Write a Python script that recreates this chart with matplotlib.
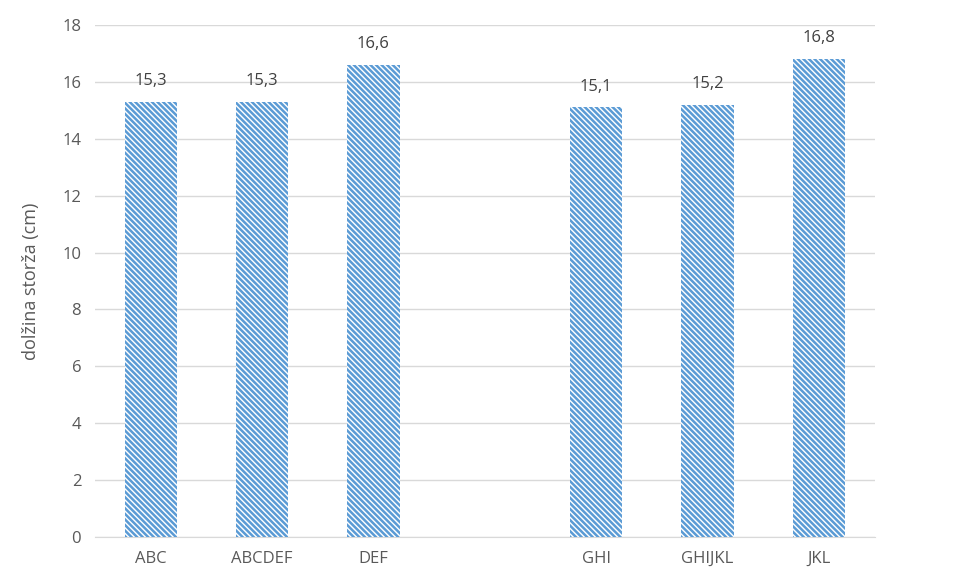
import numpy as np
import matplotlib.pyplot as plt

plt.rcParams['font.family'] = ['Open Sans', 'DejaVu Sans']
plt.rcParams['hatch.linewidth'] = 1.8

# prazen stolpec ločuje obe skupini
kategorije = ['ABC', 'ABCDEF', 'DEF', '', 'GHI', 'GHIJKL', 'JKL']
dolzine = [15.3, 15.3, 16.6, np.nan, 15.1, 15.2, 16.8]

modra = '#5B9BD5'

fig = plt.figure(figsize=(9.6, 5.77), dpi=100)
ax = fig.add_axes([0.099, 0.0693, 0.812, 0.8874])

x = np.arange(len(kategorije))
vrednosti = np.nan_to_num(dolzine)
bars = ax.bar(x, vrednosti, width=0.47, color='white', edgecolor=modra,
              hatch='\\' * 6, linewidth=0, zorder=3)

for xi, v in zip(x, dolzine):
    if np.isnan(v):
        continue
    ax.text(xi, v + 0.45, f'{v:.1f}'.replace('.', ','), ha='center', va='bottom',
            fontsize=12, color='#404040')

ax.set_xlim(-0.5, len(kategorije) - 0.5)
ax.set_ylim(0, 18)
ax.set_yticks(np.arange(0, 19, 2))
ax.set_xticks(x)
ax.set_xticklabels(kategorije)
ax.set_ylabel('dolžina storža (cm)', fontsize=13, color='#595959', labelpad=16)

ax.grid(axis='y', color='#D9D9D9', linewidth=1, zorder=0)
for s in ['top', 'right', 'left']:
    ax.spines[s].set_visible(False)
ax.spines['bottom'].set_color('#D9D9D9')
ax.tick_params(axis='both', length=0, labelsize=12, colors='#595959', pad=10)

fig.savefig('out.png', dpi=100)
